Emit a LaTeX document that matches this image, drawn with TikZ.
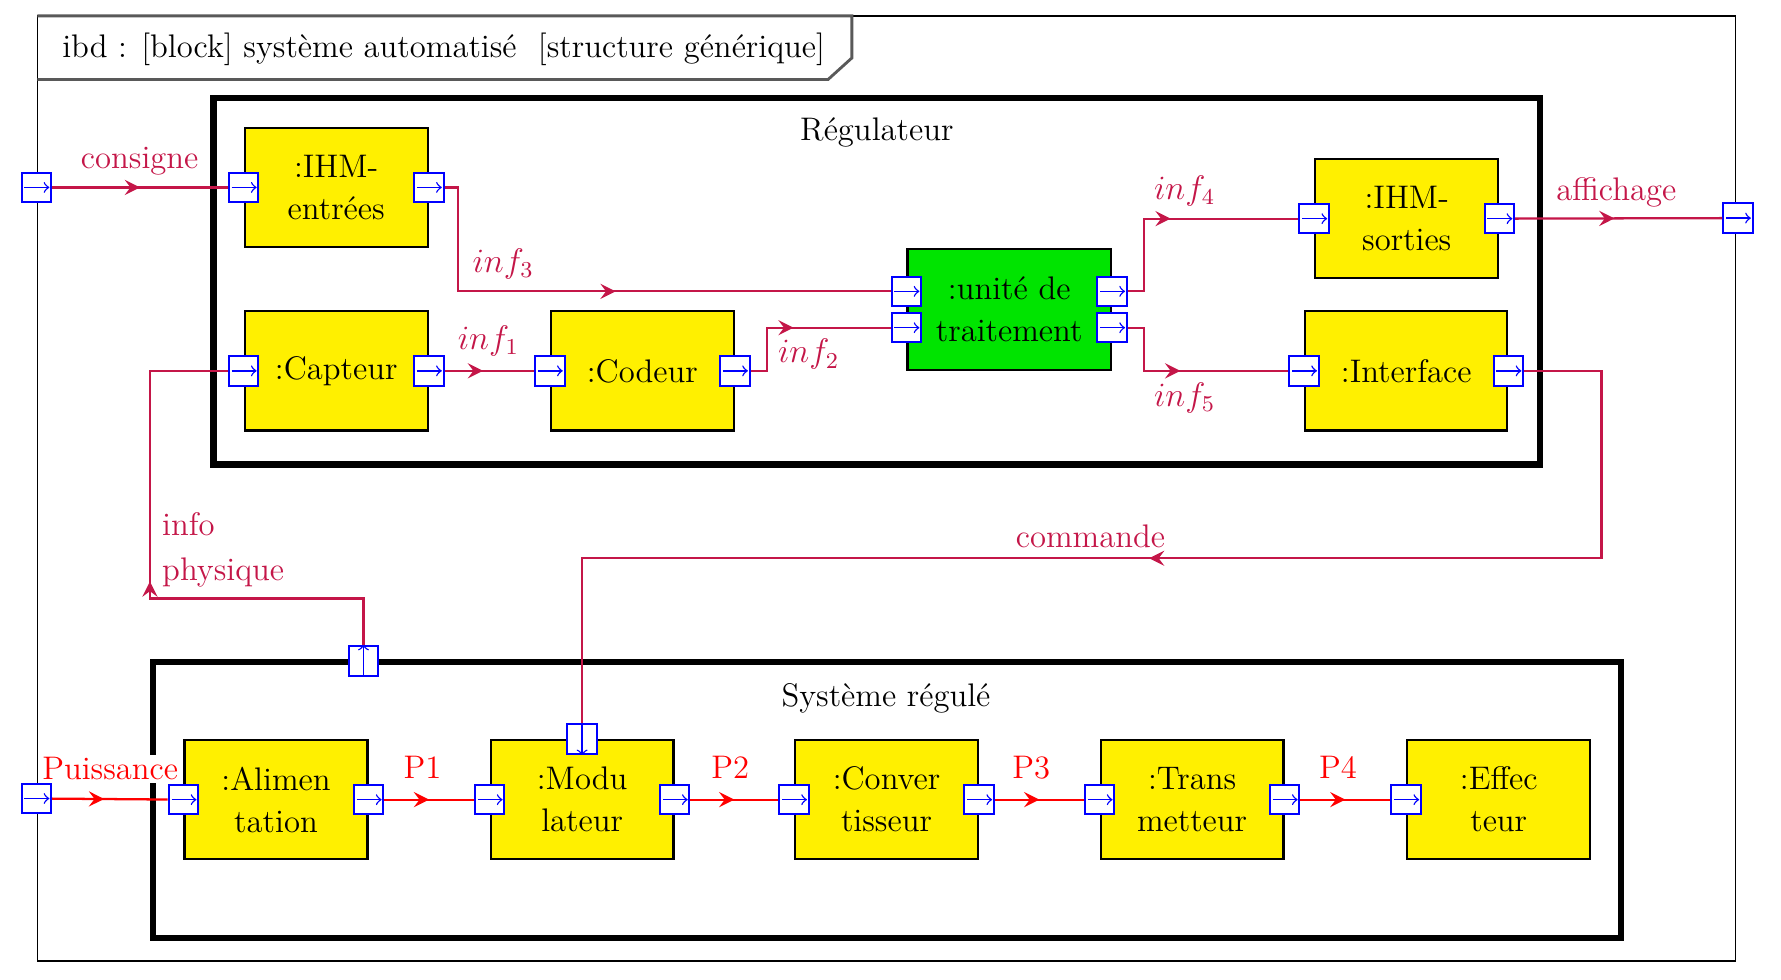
\documentclass[tikz,border=0pt]{standalone}
\usepackage{tikz}
\usetikzlibrary{calc,positioning,arrows,decorations.markings}
\definecolor{infocol}{RGB}{196,22,72}
\definecolor{blocjaune}{RGB}{255,240,0}
\definecolor{blocvert}{RGB}{0,228,0}
\tikzset{
	bloc/.style={draw=black,line width=0.8pt,fill=blocjaune,minimum width=64.4pt,minimum height=42pt,align=center,inner sep=1pt},
	port/.style={draw=blue,line width=0.7pt,fill=white,minimum size=10.4pt,inner sep=0pt},
	portd/.style={port,path picture={\draw[blue,line width=0.5pt,->] ([xshift=1pt]path picture bounding box.west) -- ([xshift=-0.6pt]path picture bounding box.east);}},
	porth/.style={port,path picture={\draw[blue,line width=0.5pt,->] ([yshift=-1pt]path picture bounding box.south) -- ([yshift=0.6pt]path picture bounding box.north);}},
	portb/.style={port,path picture={\draw[blue,line width=0.5pt,->] ([yshift=1pt]path picture bounding box.north) -- ([yshift=-0.6pt]path picture bounding box.south);}},
	sig/.style={color=infocol,line width=0.8pt},
	pow/.style={color=red,line width=0.8pt},
	mid/.style={postaction={decorate},decoration={markings,mark=at position #1 with {\arrow[scale=1.3]{stealth}}}},
	lbl/.style={text=infocol},
	plbl/.style={text=red,fill=white,inner sep=1pt},
	cadre/.style={draw=black,line width=2.2pt}
}

\begin{document}
\begin{tikzpicture}[x=0.4pt,y=-0.4pt,every node/.append style={font=\fontsize{11.5}{14.8}\selectfont}]
			\useasboundingbox (0,0) rectangle (1568,862);
			% cadre ibd
			\draw[line width=0.6pt] (33,14) rectangle (1528,846);
			\draw[gray!70!black,line width=1pt] (33,14) -- (750,14) -- (750,51) -- (729,70) -- (33,70);
			\node[anchor=west] (titre) at (46,43) {ibd : [block] système automatisé \ [structure générique]};
			% blocs englobants
			\draw[cadre] (188,86) rectangle (1356,409);
			\draw[cadre] (135,583) rectangle (1427,826);
			\node (reg) at (772,117) {Régulateur};
			\node (sysreg) at (780,615) {Système régulé};
			% regulateur
			\node[bloc] (ie) at (296,165) {:IHM-\\entrées};
			\node[bloc] (cap) at (296,326.5) {:Capteur};
			\node[bloc] (cod) at (565.5,326.5) {:Codeur};
			\node[bloc,fill=blocvert,minimum width=71.6pt,minimum height=42.8pt] (ut) at (888.5,272.5) {:unité de\\traitement};
			\node[bloc] (is) at (1238.5,192.5) {:IHM-\\sorties};
			\node[bloc,minimum width=71.2pt] (itf) at (1238,326.5) {:Interface};
			% systeme regule
			\node[bloc] (al) at (243,704) {:Alimen\\tation};
			\node[bloc] (mo) at (512.5,704) {:Modu\\lateur};
			\node[bloc] (co) at (780.5,704) {:Conver\\tisseur};
			\node[bloc] (tr) at (1049.5,704) {:Trans\\metteur};
			\node[bloc] (ef) at (1319.5,704) {:Effec\\teur};
			% ports
			\node[portd] (p-cons) at (32,165) {};
			\node[portd] (p-aff) at (1530,192) {};
			\node[portd] (p-puis) at (32,703) {};
			\node[porth] (p-info) at (320,582) {};
			\node[portd] (ie-i) at (ie.west) {};
			\node[portd] (ie-o) at (ie.east) {};
			\node[portd] (cap-i) at (cap.west) {};
			\node[portd] (cap-o) at (cap.east) {};
			\node[portd] (cod-i) at (cod.west) {};
			\node[portd] (cod-o) at (cod.east) {};
			\node[portd] (ut-i1) at ([yshift=6.4pt]ut.west) {};
			\node[portd] (ut-i2) at ([yshift=-6.4pt]ut.west) {};
			\node[portd] (ut-o1) at ([yshift=6.4pt]ut.east) {};
			\node[portd] (ut-o2) at ([yshift=-6.4pt]ut.east) {};
			\node[portd] (is-i) at (is.west) {};
			\node[portd] (is-o) at (is.east) {};
			\node[portd] (itf-i) at (itf.west) {};
			\node[portd] (itf-o) at (itf.east) {};
			\node[portd] (al-i) at (al.west) {};
			\node[portd] (al-o) at (al.east) {};
			\node[portd] (mo-i) at (mo.west) {};
			\node[portd] (mo-o) at (mo.east) {};
			\node[portb] (mo-t) at (mo.north) {};
			\node[portd] (co-i) at (co.west) {};
			\node[portd] (co-o) at (co.east) {};
			\node[portd] (tr-i) at (tr.west) {};
			\node[portd] (tr-o) at (tr.east) {};
			\node[portd] (ef-i) at (ef.west) {};
			% flux d'information
			\path[sig]
			(p-cons) edge[mid=.5] (ie-i)
			(cap-o) edge[mid=.43] (cod-i)
			(is-o) edge[mid=.48] (p-aff);
			\draw[sig,mid=.5] (ie-o) -- ++(26,0) |- (ut-i1);
			\draw[sig,mid=.47] (cod-o) -- ++(28,0) |- (ut-i2);
			\draw[sig,mid=.475] (ut-o1) -- ++(28,0) |- (is-i);
			\draw[sig,mid=.47] (ut-o2) -- ++(28,0) |- (itf-i);
			\draw[sig,mid=.495] (itf-o) -- ++(82,0) -- ++(0,165) -| (mo-t);
			\draw[sig,mid=.49] (p-info) -- ++(0,-55) -- ++(-188,0) |- (cap-i);
			% flux de puissance
			\path[pow]
			(p-puis) edge[mid=.45] (al-i)
			(al-o) edge[mid=.5] (mo-i)
			(mo-o) edge[mid=.5] (co-i)
			(co-o) edge[mid=.5] (tr-i)
			(tr-o) edge[mid=.5] (ef-i);
			% etiquettes
			\node[lbl] (l-cons) at (123,142) {consigne};
			\node[lbl] (l-aff) at (1423,169) {affichage};
			\node[lbl] (l-cmd) at (960,472) {commande};
			\node[lbl,anchor=west,align=left,font=\fontsize{11.5}{15.6}\selectfont] (l-info) at (134,484) {info\\physique};
			\node[lbl] (l-inf1) at (430,300) {$inf_1$};
			\node[lbl] (l-inf2) at (712,312) {$inf_2$};
			\node[lbl] (l-inf3) at (443,232) {$inf_3$};
			\node[lbl] (l-inf4) at (1043,168) {$inf_4$};
			\node[lbl] (l-inf5) at (1043,350) {$inf_5$};
			\node[plbl] (l-puis) at (97,677) {Puissance};
			\node[plbl] (l-p1) at (372,676) {P1};
			\node[plbl] (l-p2) at (643,676) {P2};
			\node[plbl] (l-p3) at (908,676) {P3};
			\node[plbl] (l-p4) at (1178,676) {P4};
		\end{tikzpicture}
\end{document}
